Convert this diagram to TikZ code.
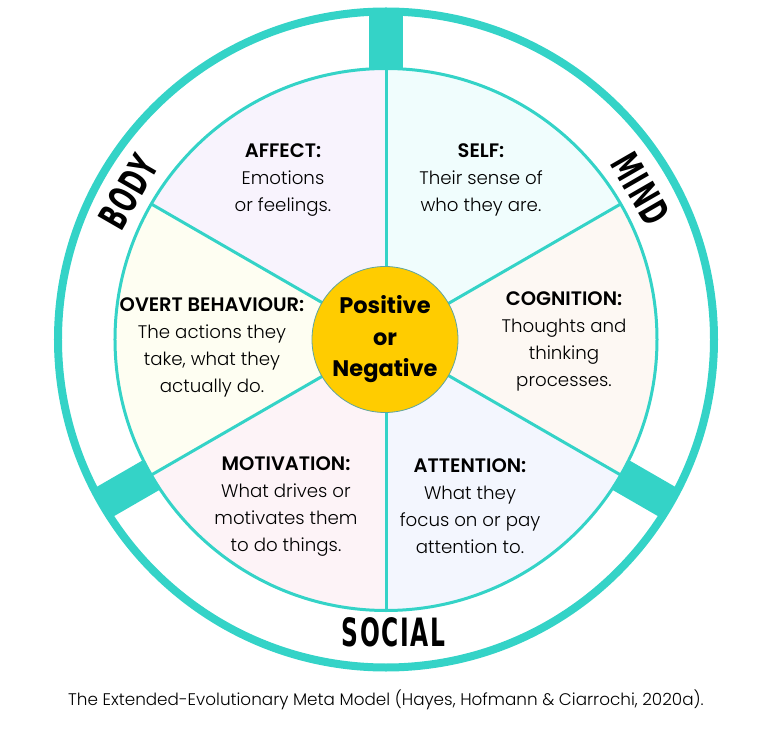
\documentclass[tikz,border=0pt]{standalone}
\usepackage{fontspec}
\setmainfont{Poppins}[UprightFont=* Light, BoldFont=* SemiBold]
\newfontfamily\corefont{Poppins}[UprightFont=* Bold]
\newfontfamily\markfont{DejaVu Sans}[FakeStretch=0.6, LetterSpace=4]
\usetikzlibrary{positioning}
\definecolor{ringcolor}{RGB}{52,211,199}
\definecolor{corecolor}{RGB}{255,204,0}
\definecolor{affcolor}{RGB}{248,243,253}
\definecolor{selfcolor}{RGB}{240,253,253}
\definecolor{cogcolor}{RGB}{253,248,243}
\definecolor{attcolor}{RGB}{243,246,254}
\definecolor{motcolor}{RGB}{253,243,247}
\definecolor{ovcolor}{RGB}{254,254,242}
\tikzset{
  ringln/.style={draw=ringcolor, line width=8pt},
  rimln/.style={draw=ringcolor, line width=3pt},
  spoke/.style={ringcolor, line width=3pt},
  seg/.style={align=center, font=\fontsize{18.2}{27}\selectfont, text=black},
  core/.style={circle, fill=corecolor, draw=ringcolor!45!gray, line width=0.8pt,
    minimum size=146pt, align=center, font=\corefont\fontsize{22.5}{33}\selectfont},
  marktext/.style={inner sep=0pt, font=\markfont\bfseries\fontsize{39}{39}\selectfont},
}
\newcommand{\segt}[1]{{\bfseries\fontsize{19.5}{27}\selectfont #1}}

\begin{document}
\begin{tikzpicture}[x=1pt, y=1pt]
    \useasboundingbox (-386,-393.5) rectangle (382,339.5);
    \foreach \a/\col in {30/selfcolor, 90/affcolor, 150/ovcolor, 210/motcolor, 270/attcolor, 330/cogcolor}
      \fill[\col] (0,0) -- (\a:271) arc[start angle=\a, end angle=\a+60, radius=271] -- cycle;
    \foreach \a in {30,90,150,210,270,330}
      \draw[spoke] (0,0) -- (\a:271);
    \draw[rimln] (0,0) circle[radius=271];
    \draw[ringln] (0,0) circle[radius=328];
    \foreach \a in {90,210,330}
      \fill[ringcolor, rotate=\a] (270,-17) rectangle (326,17);
    \node[core] (core) at (-1,0) {Positive\\[-1pt]or\\[-2pt]Negative};
    \node[seg] (affect) at (-103,159.5) {\segt{AFFECT:}\\Emotions\\or feelings.};
    \node[seg] (self) at (95,159.5) {\segt{SELF:}\\Their sense of\\who they are.};
    \node[seg] (overt) at (-174,-7.5) {\segt{OVERT BEHAVIOUR:}\\The actions they\\take, what they\\actually do.};
    \node[seg] (cognition) at (178,-1.5) {\segt{COGNITION:}\\Thoughts and\\thinking\\processes.};
    \node[seg] (motivation) at (-100,-167) {\segt{MOTIVATION:}\\What drives or\\motivates them\\to do things.};
    \node[seg] (attention) at (84,-167) {\segt{ATTENTION:}\\What they\\focus on or pay\\attention to.};
    \node[marktext, rotate=60] (body) at (150.2:297) {BODY};
    \node[marktext, rotate=-60] (mind) at (30.6:296) {MIND};
    \node[marktext] (social) at (271.5:293) {SOCIAL};
    \node[font=\fontsize{16.8}{20}\selectfont] (caption) at (0,-360.5)
      {The Extended-Evolutionary Meta Model (Hayes, Hofmann \& Ciarrochi, 2020a).};
  \end{tikzpicture}
\end{document}
